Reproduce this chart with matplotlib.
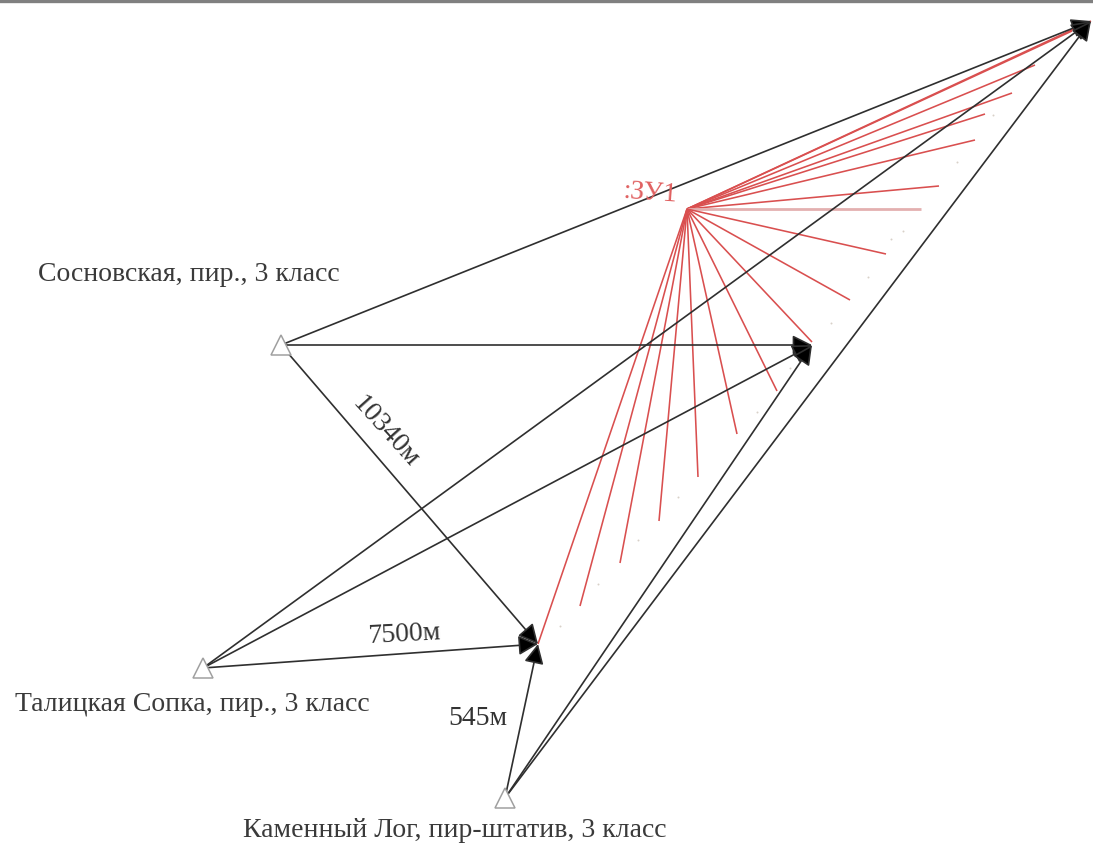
import matplotlib
matplotlib.use("Agg")
import matplotlib.pyplot as plt

WIDTH, HEIGHT = 1093, 845
plt.rcParams['font.family'] = ['Liberation Serif', 'DejaVu Serif']

# station positions (picture pixels)
stations_x = [281, 203, 505]
stations_y = [346, 669, 799]
station_names = ["Сосновская, пир., 3 класс", "Талицкая Сопка, пир., 3 класс", "Каменный Лог, пир-штатив, 3 класс"]
station_label_x = [189, 192, 455]
station_label_y = [275, 705, 831]

# targets of the observation rays
targets_x = [538, 812, 1091]
targets_y = [645, 346, 22]
ray_from = [0, 0, 0, 1, 1, 1, 2, 2, 2]
ray_to = [0, 1, 2, 0, 1, 2, 0, 1, 2]

# red fan
zu_x, zu_y = 687, 210
fan_x = [1091, 1072, 1035, 1012, 985, 975, 939, 921, 886, 850, 812, 777, 737, 698, 659, 620, 580, 538]
fan_y = [22, 32, 66, 94, 115, 141, 187, 210, 255, 301, 343, 392, 435, 478, 522, 564, 607, 645]
fan_widths = [1, 1, 1, 1, 1, 1, 1, 2.6, 1, 1, 1, 1, 1, 1, 1, 1, 1, 1]

# faint specks
speck_x = [993, 957, 903, 891, 868, 831, 790, 757, 678, 638, 598, 560]
speck_y = [116, 163, 232, 240, 278, 324, 369, 413, 498, 541, 585, 627]

# distance labels
dist_text = ["10340м", "7500м", "545м"]
dist_x = [385, 404, 478]
dist_y = [432, 635, 719]
dist_rot = [-48, 3, 0]

fig = plt.figure(figsize=(WIDTH / 100, HEIGHT / 100), dpi=100)
ax = fig.add_axes([0, 0, 1, 1])
ax.set_xlim(0, WIDTH)
ax.set_ylim(HEIGHT, 0)
ax.axis("off")

ax.axhline(1.5, color="#808080", lw=2.4, zorder=1)

for xe, ye, w in zip(fan_x, fan_y, fan_widths):
    ax.plot([zu_x, xe], [zu_y, ye], color="#d94f4f" if w == 1 else "#e3b0b0",
            lw=1.15 if w == 1 else 2.0, zorder=2, solid_capstyle="butt")

ax.scatter(speck_x, speck_y, s=2, color="#d8d0c8", linewidths=0, zorder=2)

for i, j in zip(ray_from, ray_to):
    ax.annotate("", xy=(targets_x[j], targets_y[j]), xytext=(stations_x[i], stations_y[i]),
                arrowprops=dict(arrowstyle="-|>,head_length=1.2,head_width=0.6",
                                facecolor="black", edgecolor="#2f2f2f", lw=1.2,
                                shrinkA=0, shrinkB=0), zorder=3)

ax.plot(stations_x, stations_y, linestyle="none", marker="^", ms=15, mfc="white", mec="#a0a0a0",
        mew=1.1, zorder=4)

for name, x, y in zip(station_names, station_label_x, station_label_y):
    ax.text(x, y, name, ha="center", va="center", fontsize=20, color="#3a3a3a")

for t, x, y, r in zip(dist_text, dist_x, dist_y, dist_rot):
    ax.text(x, y, t, ha="center", va="center", fontsize=20, color="#333333", rotation=r,
            rotation_mode="anchor")

ax.text(650, 193, ":ЗУ1", ha="center", va="center", fontsize=20, color="#e06060", rotation=-4)

fig.savefig("out.png", dpi=100, facecolor="white")
